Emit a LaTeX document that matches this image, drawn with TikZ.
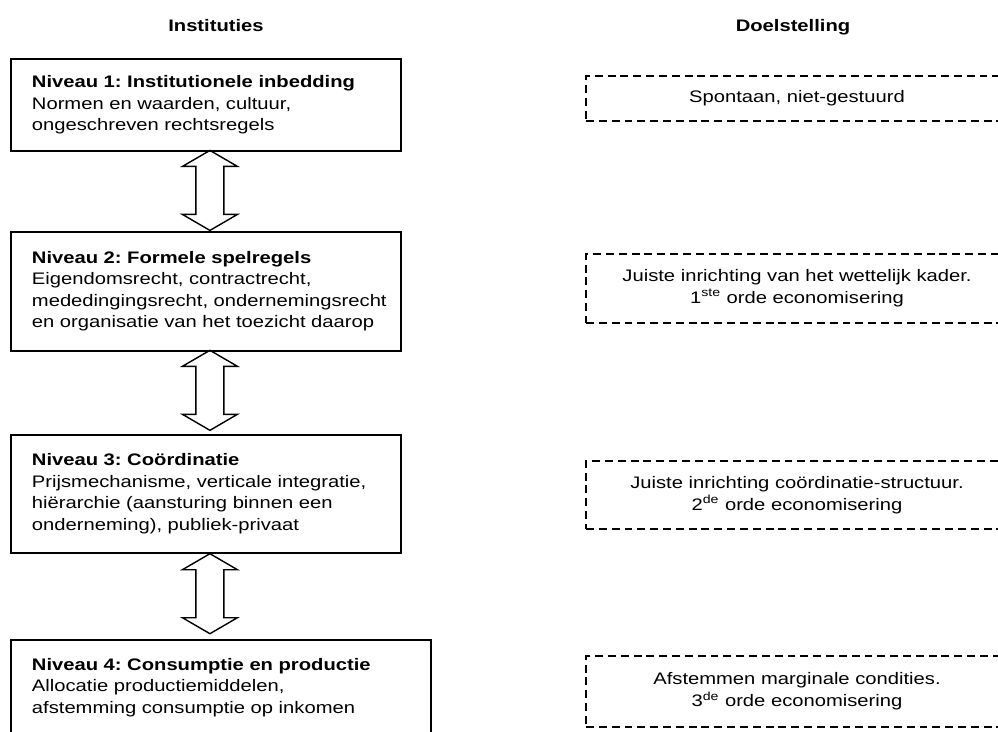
\documentclass[tikz,border=0pt]{standalone}
\usepackage{fontspec}
\setmainfont{Liberation Sans}[FakeStretch=1.21]
\usetikzlibrary{positioning,calc}
\frenchspacing

\begin{document}
\begin{tikzpicture}[x=0.02cm,y=-0.02cm,
    niveau/.style={rectangle,draw,line width=1.1pt,align=left,inner xsep=0.42cm,inner ysep=0pt,font=\fontsize{9.5}{12.2}\selectfont},
    doel/.style={rectangle,draw,dashed,dash pattern=on 4.5pt off 2.8pt,line width=0.8pt,minimum width=8.44cm,align=center,font=\fontsize{9.5}{12.4}\selectfont},
    kop/.style={font=\fontsize{9.5}{11}\selectfont\bfseries},
    dubbelpijl/.pic={\draw[line width=0.8pt,line join=miter] (0,0) -- (27.5,16) -- (14,16) -- (14,64) -- (27.5,64) -- (0,80) -- (-27.5,64) -- (-14,64) -- (-14,16) -- (-27.5,16) -- cycle;}]
    \useasboundingbox (0,0) rectangle (998,731);
    \clip (0,0) rectangle (998,731);
    % kolomkoppen
    \node[kop,anchor=base] (kopinst) at (216,31) {Instituties};
    \node[kop,anchor=base] (kopdoel) at (793,31) {Doelstelling};
    % instituties
    \node[niveau,text width=6.96cm,minimum height=1.84cm,anchor=north west] (niv1) at (10,58) {\textbf{Niveau 1: Institutionele inbedding}\\Normen en waarden, cultuur,\\ongeschreven rechtsregels};
    \node[niveau,text width=6.96cm,minimum height=2.38cm,below=1.58cm of niv1.south west,anchor=north west] (niv2) {\textbf{Niveau 2: Formele spelregels}\\Eigendomsrecht, contractrecht,\\\mbox{mededingingsrecht, ondernemingsrecht}\\en organisatie van het toezicht daarop};
    \node[niveau,text width=6.96cm,minimum height=2.36cm,below=1.64cm of niv2.south west,anchor=north west] (niv3) {\textbf{Niveau 3: Coördinatie}\\Prijsmechanisme, verticale integratie,\\hiërarchie (aansturing binnen een\\onderneming), publiek-privaat};
    \node[niveau,text width=7.56cm,minimum height=1.92cm,below=1.7cm of niv3.south west,anchor=north west] (niv4) {\textbf{Niveau 4: Consumptie en productie}\\Allocatie productiemiddelen,\\afstemming consumptie op inkomen};
    \pic (pijl1) at ([xshift=0.08cm,yshift=0.03cm]niv1.south) {dubbelpijl};
    \pic (pijl2) at ([xshift=0.08cm,yshift=0.03cm]niv2.south) {dubbelpijl};
    \pic (pijl3) at ([xshift=0.08cm]niv3.south) {dubbelpijl};
    % doelstellingen
    \node[doel,minimum height=0.9cm] (doel1) at (797,98.5) {Spontaan, niet-gestuurd};
    \node[doel,minimum height=1.38cm] (doel2) at (797,288.5) {Juiste inrichting van het wettelijk kader.\\1\textsuperscript{ste} orde economisering};
    \node[doel,minimum height=1.36cm] (doel3) at (797,495) {Juiste inrichting coördinatie-structuur.\\2\textsuperscript{de} orde economisering};
    \node[doel,minimum height=1.42cm] (doel4) at (797,691.5) {Afstemmen marginale condities.\\3\textsuperscript{de} orde economisering};
\end{tikzpicture}
\end{document}
